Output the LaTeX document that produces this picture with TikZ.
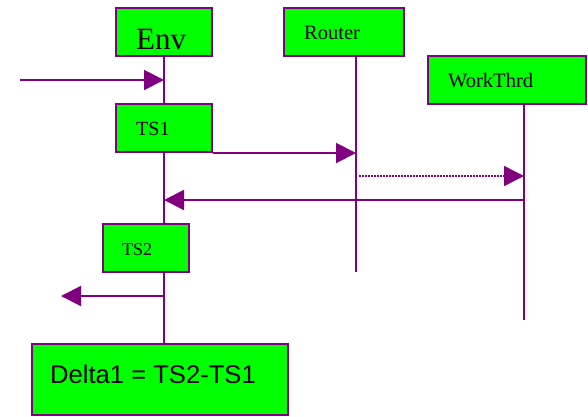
\documentclass[tikz,border=0pt]{standalone}
\usepackage{fontspec}
\setmainfont{Liberation Serif}
\newfontfamily\arialf{Liberation Sans}
\usetikzlibrary{arrows.meta,backgrounds}
\definecolor{lpurple}{HTML}{800080}
\definecolor{lgreen}{HTML}{00FF00}
\begin{document}
\begin{tikzpicture}[x=1pt,y=-1pt,
  box/.style={draw=lpurple,fill=lgreen,line width=2pt,rectangle,inner sep=0pt},
  lifeline/.style={draw=lpurple,line width=2pt},
  msg/.style={draw=lpurple,color=lpurple,line width=2pt,-{Triangle[length=20pt,width=20pt]}},
  dotmsg/.style={draw=lpurple,color=lpurple,line width=1.5pt,dash pattern=on 1.5pt off 1.5pt,-{Triangle[length=20pt,width=20pt,sep=0pt]}},
  lbl/.style={anchor=base west,inner sep=0pt,text=black}
]
\useasboundingbox (0,0) rectangle (588,416);

% boxes
\node[box,minimum width=96pt,minimum height=48pt] (env) at (164,32) {};
\node[box,minimum width=120pt,minimum height=48pt] (router) at (344,32) {};
\node[box,minimum width=158pt,minimum height=48pt] (work) at (507,80) {};
\node[box,minimum width=96pt,minimum height=48pt] (ts1) at (164,128) {};
\node[box,minimum width=86pt,minimum height=48pt] (ts2) at (146,248) {};
\node[box,minimum width=256pt,minimum height=71pt] (delta) at (160,379.5) {};

% lifeline coordinates
\coordinate (rTop) at (356,56);
\coordinate (rBot) at (356,272);
\coordinate (wTop) at (524,104);
\coordinate (wBot) at (524,320);

\begin{scope}[on background layer]
  \draw[lifeline] (env.south) -- (env.south |- delta.north);
  \draw[lifeline] (rTop) -- (rBot);
  \draw[lifeline] (wTop) -- (wBot);
\end{scope}

% messages
\coordinate (inS) at (20,80);
\draw[msg] (inS) -- (inS -| env.south);
\draw[msg] (ts1.south east) -- (ts1.south east -| rTop);
\coordinate (dS) at (359,176);
\draw[dotmsg] (dS) -- (dS -| wTop);
\coordinate (retS) at (524,200);
\draw[msg] (retS) -- (retS -| env.south);
\coordinate (outE) at (61,296);
\draw[msg] (env.south |- outE) -- (outE);

% labels
\node[lbl,font=\fontsize{31}{31}\selectfont] (envT) at (136,49) {Env};
\node[lbl,font=\fontsize{20.5}{20.5}\selectfont] (routerT) at (304,39) {Router};
\node[lbl,font=\fontsize{20.5}{20.5}\selectfont] (workT) at (448,87) {WorkThrd};
\node[lbl,font=\fontsize{20}{20}\selectfont] (ts1T) at (136,135) {TS1};
\node[lbl,font=\fontsize{18}{18}\selectfont] (ts2T) at (122,255) {TS2};
\node[lbl,font=\arialf\fontsize{25.6}{25.6}\selectfont] (deltaT) at (50,383) {Delta1 = TS2-TS1};
\end{tikzpicture}
\end{document}
